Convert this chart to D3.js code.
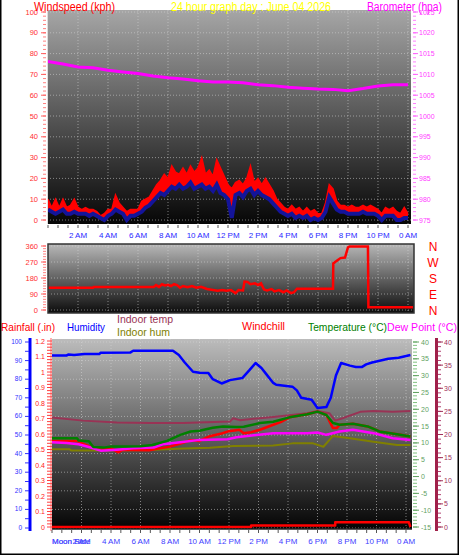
<!DOCTYPE html>
<html><head><meta charset="utf-8">
<script src="https://cdn.jsdelivr.net/npm/d3@7"></script>
<style>
body{margin:0;background:#fff;}
svg{display:block;font-family:"Liberation Sans",Arial,sans-serif;}
</style></head><body>
<svg id="c" width="459" height="555"></svg>
<script>
// ---------- DATA ----------
const hourTicks = [2,4,6,8,10,12,14,16,18,20,22,24];
const hourLabels = ["2 AM","4 AM","6 AM","8 AM","10 AM","12 PM","2 PM","4 PM","6 PM","8 PM","10 PM","0 AM"];
const windTicks = [0,10,20,30,40,50,60,70,80,90,100];
const baroTicks = [975,980,985,990,995,1000,1005,1010,1015,1020,1025];
const dirTicks = [0,90,180,270,360];
const dirLetters = ["N","E","S","W","N"];
const humTicks = [0,10,20,30,40,50,60,70,80,90,100];
const rainTicks = [0,0.1,0.2,0.3,0.4,0.5,0.6,0.7,0.8,0.9,1,1.1,1.2];
const tempTicks = [-15,-10,-5,0,5,10,15,20,25,30,35,40];
const inTempTicks = [0,5,10,15,20,25,30,35,40];

// wind every 15 minutes from 0h to 24h (kph)
const windGust = [10,6,10,6, 10,6,7,10, 6,5,6,5, 5,4,2,3, 5,5,12,8, 6,4,5,5, 5,9,10,11, 14,17,19,22,
  20,26,23,22, 25,22,26,23, 25,30,22,24, 21,29,25,21, 17,15,18,19, 17,20,26,18, 20,17,20,17,
  14,10,8,6, 5,7,5,6, 4,6,4,5, 3,3,8,17, 15,9,7,7, 6,7,6,6, 7,6,7,6, 5,3,6,5, 6,4,3,6, 3];
const windAvg = [5,4,3,4, 5,3,3,4, 3,3,3,2, 3,2,1,0, 2,3,5,4, 3,0,2,2, 3,4,6,7, 9,11,13,12,
  14,16,15,17, 15,16,18,15, 16,17,15,16, 14,17,13,12, 10,1,12,13, 11,14,15,12, 14,12,11,10,
  8,6,4,3, 2,3,1,2, 1,2,0,1, 0,1,4,11, 8,5,4,4, 3,3,3,3, 4,3,3,3, 2,0,2,2, 2,0,0,1, 1];
const baroHours = [0,1,2,3,4,5,6,7,8,9,10,11,12,13,14,15,16,17,18,19,20,21,22,23,24];
const baro = [1013.1,1012.5,1011.8,1011.6,1011.0,1010.6,1010.2,1009.6,1009.2,1008.9,1008.5,1008.2,
  1008.2,1008.0,1007.5,1007.3,1006.9,1006.7,1006.5,1006.4,1006.1,1006.6,1007.2,1007.5,1007.5];
const dirSeries = [[0,125],[3.0,125],[3.05,130],[7.05,130],[7.2,140],[7.4,130],[7.6,145],[7.8,138],[8.0,142],
  [8.2,135],[8.4,145],[8.6,140],[8.8,125],[9.0,135],[9.3,128],[9.6,135],[9.9,125],[10.2,130],[10.6,118],
  [11.0,112],[11.3,108],[11.6,112],[11.9,108],[12.2,112],[12.5,95],[12.7,112],[13.0,110],[13.1,160],
  [13.3,158],[13.5,145],[13.8,150],[14.0,140],[14.2,150],[14.4,115],[14.6,110],[14.9,118],[15.1,105],
  [15.4,112],[15.7,100],[15.9,110],[16.2,95],[16.4,100],[16.6,120],[19.0,120],[19.02,262],[19.3,280],
  [19.5,292],[19.8,295],[20.0,352],[20.1,357],[21.33,357],[21.36,15],[24.33,15]];

const humSeries = [[0,92.8],[1.0,92.8],[1.1,93.3],[1.5,93.0],[2.2,93.5],[3.2,93.5],[3.3,94.2],[5.3,94.3],
  [5.5,95.3],[8.2,95.3],[8.6,93],[9.0,89],[9.56,84],[10.0,83.5],[10.6,83.3],[10.9,80],[11.5,77.7],
  [12.07,79.5],[12.9,80.6],[13.4,85],[13.8,88.7],[14.2,86],[14.5,83],[15.0,78],[15.2,77],[16.3,76],
  [16.6,74],[16.9,70],[17.6,69],[18.0,64.5],[18.6,65],[18.9,70],[19.25,82],[19.6,88.7],[20.2,87.3],
  [20.6,86.6],[21.0,86.5],[21.3,88],[21.7,89],[22.8,91],[23.5,91.5],[24.3,93]];
const tempSeries = [[0,11.4],[1.7,11.4],[1.8,10.7],[2.5,10.5],[2.8,8.8],[3.5,8.6],[4,8.9],[5,8.9],[6,9.0],
  [6.8,9.4],[7.8,10.6],[8.7,12.4],[9.4,13.4],[10,13.6],[10.9,14.5],[11.6,14.9],[12.5,14.7],[13,14.8],
  [14.1,15.9],[15,16.3],[16.1,17.6],[17.3,18.5],[18,19.3],[18.6,18.3],[19.05,15.9],[19.5,15.4],
  [20.4,15.7],[21.4,14.9],[22.2,13.4],[23.6,12.4],[24.3,11.9]];
const chillSeries = [[0,10.6],[1.7,10.6],[2.0,9.9],[2.8,8.5],[3.5,8.3],[4.0,8.4],[4.5,7.2],[4.8,8.0],
  [5.5,7.9],[6.6,7.8],[7.2,8.3],[8.0,8.9],[8.7,9.8],[9.4,10.8],[10.0,10.6],[10.7,12.0],[11.5,12.8],
  [12.0,13.5],[12.7,13.9],[13.0,12.9],[13.5,13.2],[14.1,13.9],[15.0,15.4],[15.5,16.2],[16.1,17.6],
  [17.3,18.5],[18.0,19.3],[18.6,18.3],[19.05,14.4],[19.3,14.4],[19.5,15.4],[20.4,15.7],[21.4,14.9],
  [22.2,13.4],[23.6,12.4],[24.3,11.9]];
const dewSeries = [[0,10.2],[1.0,10.0],[1.8,9.6],[2.5,8.8],[3.3,7.7],[4.4,8.0],[5.5,8.4],[6.9,8.6],
  [7.5,9.6],[8.7,10.2],[10.0,10.9],[11.9,11.1],[12.5,11.7],[15.0,12.9],[17.3,12.9],[18.0,13.1],
  [18.6,12.4],[19.5,13.4],[20.4,13.9],[21.8,12.9],[23.1,11.4],[24.3,10.9]];
const inTempSeries = [[0,23.7],[2.1,23.0],[4.4,22.6],[6.6,22.5],[8.9,22.5],[12.07,22.8],[12.27,23.5],
  [12.75,23.1],[15.0,23.8],[17.3,24.6],[18.0,25.1],[18.8,24.6],[19.2,23.0],[19.7,23.5],[20.9,24.9],
  [21.8,25.1],[23.1,24.9],[24.3,25.1]];
const inHumSeries = [[0,42.3],[1.2,42.3],[1.3,41.6],[4.0,41.6],[6.6,41.9],[8.9,42.8],[10.7,43.2],
  [12.3,44.1],[15.0,44.3],[16.3,45.5],[17.7,45.5],[18.4,43.7],[19.05,49.5],[20.2,48.2],[21.8,46.4],
  [23.4,44.6],[24.3,44.6]];
const rainSeries = [[0,0],[13.5,0],[13.5,0.01],[19.2,0.01],[19.2,0.03],[24.2,0.03],[24.3,0]];

// ---------- DRAW ----------
const svg = d3.select("#c");
const defs = svg.append("defs");
function grad(id, y1, y2, c1, c2){
  const g = defs.append("linearGradient").attr("id", id).attr("gradientUnits","userSpaceOnUse")
    .attr("x1",0).attr("x2",0).attr("y1",y1).attr("y2",y2);
  g.append("stop").attr("offset","0").attr("stop-color",c1);
  g.append("stop").attr("offset","1").attr("stop-color",c2);
}
function clip(id,x,y,w,h){
  defs.append("clipPath").attr("id",id).append("rect").attr("x",x).attr("y",y).attr("width",w).attr("height",h);
}
function text(g,x,y,s,size,fill,anchor,len){
  const t = g.append("text").attr("x",x).attr("y",y).text(s).attr("font-size",size).attr("fill",fill)
    .attr("text-anchor",anchor||"start");
  if(len) t.attr("textLength",len).attr("lengthAdjust","spacingAndGlyphs");
  return t;
}
function hLines(g, ys, x1, x2, color, w, dash){
  g.selectAll(null).data(ys).join("line").attr("x1",x1).attr("x2",x2).attr("y1",d=>d).attr("y2",d=>d)
   .attr("stroke",color).attr("stroke-width",w||1).attr("stroke-dasharray",dash||null);
}
function vLines(g, xs, y1, y2, color, w, dash){
  g.selectAll(null).data(xs).join("line").attr("y1",y1).attr("y2",y2).attr("x1",d=>d).attr("x2",d=>d)
   .attr("stroke",color).attr("stroke-width",w||1).attr("stroke-dasharray",dash||null);
}
const gridColor = "rgba(215,215,215,0.55)";

// ===== Panel 1 : wind + barometer =====
const p1 = {x:47, y:10, w:364, h:214};
const xW = d3.scaleLinear().domain([0,24]).range([48,408]);
const yW = d3.scaleLinear().domain([0,100]).range([220,12]);
const yB = d3.scaleLinear().domain([975,1025]).range([220,12]);
grad("g1", p1.y, p1.y+p1.h, "#a6a6a6", "#060606");
clip("c1", p1.x, p1.y, p1.w, p1.h);
const g1 = svg.append("g");
g1.append("rect").attr("x",p1.x).attr("y",p1.y).attr("width",p1.w).attr("height",p1.h).attr("fill","url(#g1)");
hLines(g1, windTicks.map(yW), p1.x, p1.x+p1.w, gridColor, 1, "1,2");
vLines(g1, hourTicks.map(xW), p1.y, p1.y+p1.h, gridColor, 1, "1,2");
const pc1 = g1.append("g").attr("clip-path","url(#c1)");
const wIdx = windGust.map((d,i)=>i/4);
pc1.append("path").datum(wIdx.map((h,i)=>[h,windGust[i],windAvg[i]]))
  .attr("d", d3.area().x(d=>xW(d[0])).y0(d=>yW(d[2])).y1(d=>yW(d[1])))
  .attr("fill","#ff0000");
pc1.append("path").datum(wIdx.map((h,i)=>[h,windGust[i]]))
  .attr("d", d3.line().x(d=>xW(d[0])).y(d=>yW(d[1]))).attr("fill","none").attr("stroke","#ff0000").attr("stroke-width",1.5);
pc1.append("path").datum(wIdx.map((h,i)=>[h,windAvg[i]]))
  .attr("d", d3.line().x(d=>xW(d[0])).y(d=>yW(d[1]))).attr("fill","none").attr("stroke","#14149a").attr("stroke-width",4);
pc1.append("path").datum(baroHours.map((h,i)=>[h,baro[i]]))
  .attr("d", d3.line().x(d=>xW(d[0])).y(d=>yB(d[1]))).attr("fill","none").attr("stroke","#ff00ff").attr("stroke-width",3);
g1.append("line").attr("x1",p1.x+0.5).attr("x2",p1.x+0.5).attr("y1",p1.y).attr("y2",p1.y+p1.h).attr("stroke","#ddd");
// left axis
hLines(g1, d3.range(0,101,2).map(yW), 43, 46, "#ff8080", 1);
hLines(g1, windTicks.map(yW), 41, 46, "#ff6060", 1);
windTicks.forEach(v=>text(g1, 38, yW(v)+2.5, v, "7.5px", "#ff3030", "end"));
// right axis
hLines(g1, d3.range(975,1026,1).map(yB), 413, 416, "#ff80ff", 1);
hLines(g1, baroTicks.map(yB), 413, 418, "#ff60ff", 1);
baroTicks.forEach(v=>text(g1, 419, yB(v)+2.5, v, "7px", "#ff40ff", "start"));
// x axis
vLines(g1, d3.range(0,24.1,2/3).map(xW), 225, 228, "#555", 1);
hourTicks.forEach((h,i)=>text(g1, xW(h), 238, hourLabels[i], "8px", "#2a2aff", "middle"));
text(g1, 34, 10.5, "Windspeed (kph)", "12px", "#ff0000", "start", 81);
text(g1, 171, 10.5, "24 hour graph day : June 04 2026", "12px", "#ffff00", "start", 160);
text(g1, 367, 10.5, "Barometer (hpa)", "12px", "#ff00ff", "start", 75);

// ===== Panel 2 : wind direction =====
const p2 = {x:48, y:244, w:366, h:69};
const yD = d3.scaleLinear().domain([0,360]).range([310,246]);
grad("g2", p2.y, p2.y+p2.h, "#b8b8b8", "#0c0c0c");
clip("c2", p2.x, p2.y, p2.w, p2.h);
const g2 = svg.append("g");
g2.append("rect").attr("x",p2.x).attr("y",p2.y).attr("width",p2.w).attr("height",p2.h).attr("fill","url(#g2)");
hLines(g2, dirTicks.map(yD), p2.x, p2.x+p2.w, gridColor, 1, "1,2");
vLines(g2, hourTicks.map(xW), p2.y, p2.y+p2.h, gridColor, 1, "1,2");
g2.append("g").attr("clip-path","url(#c2)").append("path").datum(dirSeries)
  .attr("d", d3.line().x(d=>xW(d[0])).y(d=>yD(d[1]))).attr("fill","none").attr("stroke","#ff0000").attr("stroke-width",2.5);
g2.append("rect").attr("x",p2.x).attr("y",p2.y).attr("width",p2.w).attr("height",p2.h)
  .attr("fill","none").attr("stroke","#333").attr("stroke-width",1.5);
hLines(g2, d3.range(0,361,15).map(yD), 43, 46, "#ff8080", 1);
hLines(g2, dirTicks.map(yD), 41, 46, "#ff6060", 1);
dirTicks.forEach(v=>text(g2, 38, yD(v)+2.5, v, "7.5px", "#ff3030", "end"));
dirTicks.forEach((v,i)=>text(g2, 433, yD(v)+4.5, dirLetters[i], "12px", "#ff0000", "middle"));

// ===== Panel 3 : temperatures, humidity, rain =====
const p3 = {x:52, y:339, w:360, h:190};
const xT = d3.scaleLinear().domain([0,24]).range([52,406]);
const yH = d3.scaleLinear().domain([0,100]).range([528,342]);
const yR = d3.scaleLinear().domain([0,1.2]).range([527,341]);
const yT = d3.scaleLinear().domain([-15,40]).range([527,342]);
const yI = d3.scaleLinear().domain([0,40]).range([527,342]);
grad("g3", p3.y, p3.y+p3.h, "#bcbcbc", "#040404");
clip("c3", p3.x, p3.y, p3.w, p3.h);
const g3 = svg.append("g");
g3.append("rect").attr("x",p3.x).attr("y",p3.y).attr("width",p3.w).attr("height",p3.h).attr("fill","url(#g3)");
hLines(g3, humTicks.map(yH), p3.x, p3.x+p3.w, gridColor, 1, "1,2");
vLines(g3, hourTicks.map(xT), p3.y, p3.y+p3.h, gridColor, 1, "1,2");
const pc3 = g3.append("g").attr("clip-path","url(#c3)");
function series(data, ys, color, w){
  pc3.append("path").datum(data).attr("d", d3.line().x(d=>xT(d[0])).y(d=>ys(d[1])))
    .attr("fill","none").attr("stroke",color).attr("stroke-width",w).attr("stroke-linejoin","round");
}
series(rainSeries, yR, "#ff0000", 2.5);
series(inHumSeries, yH, "#808000", 2);
series(inTempSeries, yI, "#993355", 2);
series(chillSeries, yT, "#ff0000", 2.5);
series(dewSeries, yT, "#ff00ff", 2.5);
series(tempSeries, yT, "#008000", 2.5);
series(humSeries, yH, "#0000ff", 2.5);
g3.append("line").attr("x1",p3.x).attr("x2",p3.x+p3.w).attr("y1",p3.y+p3.h).attr("y2",p3.y+p3.h).attr("stroke","#222").attr("stroke-width",1.5);
// humidity axis (blue)
g3.append("line").attr("x1",30).attr("x2",30).attr("y1",338).attr("y2",531).attr("stroke","#0000ff").attr("stroke-width",3);
hLines(g3, d3.range(0,101,5).map(yH), 25, 29, "#3030ff", 1);
humTicks.forEach(v=>text(g3, 22, yH(v)+2, v, "6.5px", "#2f2fff", "end"));
// rain axis (red)
g3.append("line").attr("x1",51).attr("x2",51).attr("y1",338).attr("y2",531).attr("stroke","#ffb0b0").attr("stroke-width",2);
hLines(g3, d3.range(0,1.201,0.02).map(yR), 47, 52, "#ff4040", 1);
rainTicks.forEach(v=>text(g3, 45, yR(v)+2.5, v, "7px", "#ff2020", "end"));
// temperature axis (green)
hLines(g3, d3.range(-15,40.1,1).map(yT), 413, 417, "#80c080", 1);
hLines(g3, tempTicks.map(yT), 413, 419, "#60a060", 1);
tempTicks.forEach(v=>text(g3, 421, yT(v)+2.5, v, "7px", "#5f9f5f", "start"));
// indoor temp axis (maroon)
g3.append("line").attr("x1",436.5).attr("x2",436.5).attr("y1",338).attr("y2",531).attr("stroke","#a0204a").attr("stroke-width",3);
hLines(g3, d3.range(0,40.1,1).map(yI), 438, 441, "#b04070", 1);
hLines(g3, inTempTicks.map(yI), 438, 443, "#a0305a", 1);
inTempTicks.forEach(v=>text(g3, 444, yI(v)+2.5, v, "7px", "#a0305a", "start"));
// x axis
vLines(g3, d3.range(0,24.4,2/3).map(xT), 530, 533, "#555", 1);
hourTicks.forEach((h,i)=>text(g3, xT(h), 544, hourLabels[i], "8px", "#4040ff", "middle"));
text(g3, 52, 544, "Moon Rise", "8px", "#4a4aff", "start");
text(g3, 52, 544, "Moon Set", "8px", "#4a4aff", "start");
// titles
text(g3, 1, 331, "Rainfall (.in)", "11px", "#ff0000", "start", 54);
text(g3, 67, 331, "Humidity", "11px", "#0000ff", "start", 38);
text(g3, 117, 323, "Indoor temp", "11px", "#993355", "start", 56);
text(g3, 117, 336, "Indoor hum", "11px", "#808000", "start", 53);
text(g3, 242, 330, "Windchill", "11px", "#ff0000", "start", 43);
text(g3, 308, 331, "Temperature (°C)", "11px", "#008000", "start", 79);
text(g3, 387, 331, "Dew Point (°C)", "11px", "#ff00ff", "start", 70);

// outer border
svg.append("path").attr("d","M0.75,0 V554.25 H458.25 V0").attr("fill","none").attr("stroke","#000").attr("stroke-width",1.5);
</script></body></html>
